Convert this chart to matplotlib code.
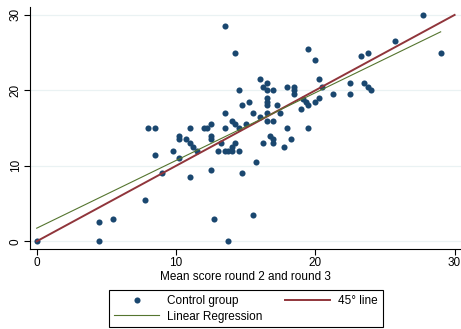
import numpy as np
import matplotlib
matplotlib.use('Agg')
import matplotlib.pyplot as plt

plt.rcParams['font.family'] = ['Liberation Sans', 'DejaVu Sans']

# control group: mean score round 2/3 (x) vs score (y)
score_x = [0, 4.5, 4.5, 5.5, 7.75, 8, 8.5, 8.5, 9, 9.75,
           10.25, 10.25, 10.25, 10.75, 11, 11.25, 11.5, 11, 11, 12,
           12.25, 12.5, 12.5, 12.5, 12.5, 12.75, 13, 13.25, 13.5, 13.75,
           14, 14, 14.25, 14.5, 13.75, 13.5, 13.5, 14, 14.25, 14.5,
           15, 14.75, 15.5, 15.75, 15.5, 15.25, 14.75, 14.5, 14.25, 13.5,
           16, 16.25, 16.5, 16.5, 17, 16.5, 16.5, 16.5, 17.25, 16.5,
           16, 16.5, 17, 17.5, 16.75, 17, 16.25, 17, 17.75, 18.25,
           18, 18, 18.5, 18.5, 18.5, 19, 19.1, 19.35, 19.5, 19.5,
           19.5, 20, 20, 20.25, 20.25, 20.5, 21.25, 22.5, 22.5, 23.5,
           23.75, 24, 23.25, 23.75, 25.75, 27.75, 29]
score_y = [0, 2.5, 0, 3, 5.5, 15, 15, 11.5, 9, 12,
           14, 13.5, 11, 13.5, 13, 12.5, 12, 15, 8.5, 15,
           15, 15.5, 14, 13.5, 9.5, 3, 12, 13, 12, 12,
           12.5, 12, 13, 12, 0, 15, 17, 16, 15.5, 15,
           15.5, 9, 3.5, 10.5, 17, 18.5, 18, 20, 25, 28.5,
           21.5, 20.5, 21, 20, 20, 19, 18.5, 18, 18, 17,
           16.5, 16, 16, 17, 14, 13.5, 13, 13, 12.5, 13.5,
           15, 20.5, 20.5, 20, 19.5, 17.5, 18.9, 18.4, 18, 15,
           25.5, 24, 18.5, 19, 21.5, 20.5, 19.5, 21, 19.5, 21,
           20.5, 20, 24.5, 25, 26.5, 30, 25]

diag = [0, 30]
ticks = [0, 10, 20, 30]

navy = '#1a476f'
maroon = '#90353b'
green = '#55752f'

fig = plt.figure(figsize=(4.61, 3.29), dpi=100)
ax = fig.add_axes([30/461, 1-249/329, 431/461, 242/329])

# regression line over the observed x range
b, a = np.polyfit(score_x, score_y, 1)
xr = np.array([min(score_x), max(score_x)])

h_sc, = ax.plot(score_x, score_y, 'o', color=navy, ms=4.4, mew=0,
                label='Control group', zorder=3)
h_45, = ax.plot(diag, diag, color=maroon, lw=1.4, label='45° line', zorder=4)
h_lr, = ax.plot(xr, a + b*xr, color=green, lw=0.8,
                label='Linear Regression', zorder=4)

ax.set_xlim(-0.48, 30.46)
ax.set_ylim(-1.02, 31.05)
ax.set_xticks(ticks)
ax.set_yticks(ticks)
ax.set_yticklabels([str(t) for t in ticks], rotation=90, va='center')
ax.yaxis.grid(True, color='#eaf2f3', lw=0.9)
ax.set_axisbelow(True)
for s in ['top', 'right']:
    ax.spines[s].set_visible(False)
for s in ['left', 'bottom']:
    ax.spines[s].set_linewidth(0.8)
ax.tick_params(length=4, width=0.8, labelsize=8.5, pad=2)
ax.set_xlabel('Mean score round 2 and round 3', fontsize=8.5, labelpad=1)

leg = fig.legend(handles=[h_sc, h_lr, h_45], ncol=2, loc='center',
                 bbox_to_anchor=(246/461, 1-308.8/329), fontsize=8.5,
                 fancybox=False, edgecolor='black', framealpha=1,
                 handlelength=3.8, handletextpad=0.7, columnspacing=1.9,
                 borderpad=0.4, labelspacing=0.3)
leg.get_frame().set_linewidth(0.8)

fig.savefig('out.png', dpi=100)
